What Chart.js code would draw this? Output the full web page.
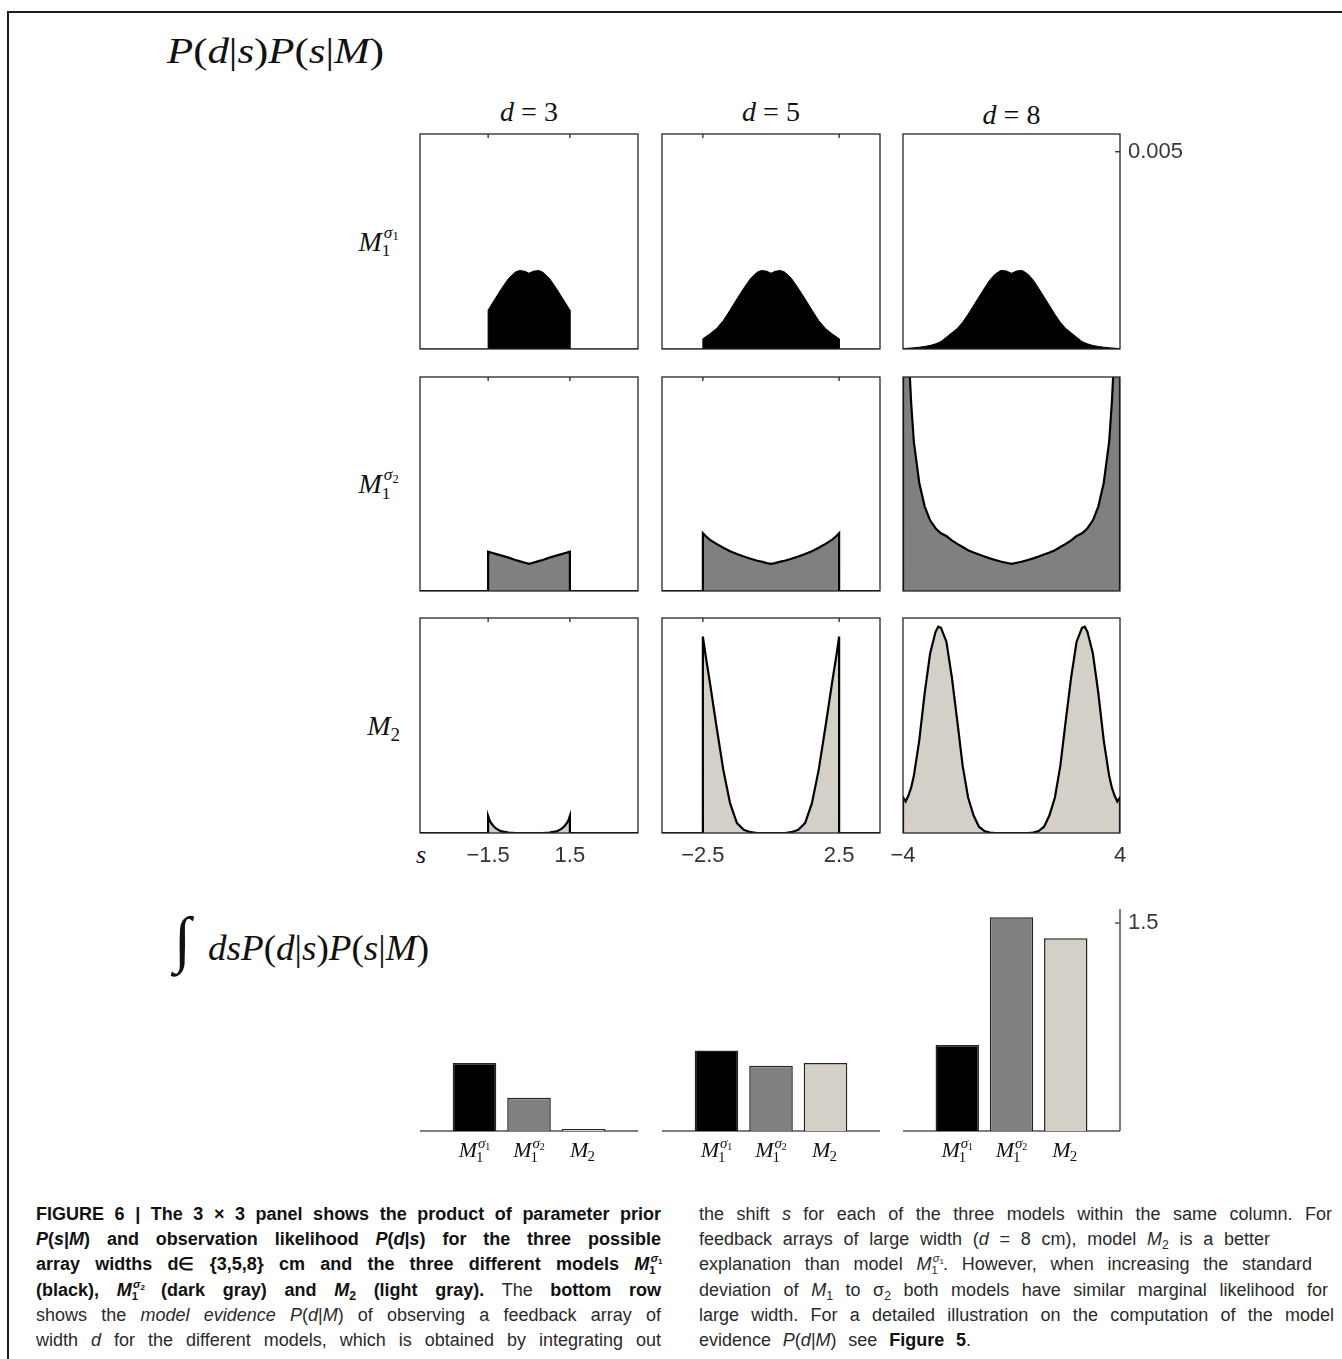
<!DOCTYPE html>
<html lang="en">
<head>
<meta charset="utf-8">
<title>Figure 6 - model evidence</title>
<script src="https://cdn.jsdelivr.net/npm/chart.js@4.4.1/dist/chart.umd.min.js"></script>
<style>
  html, body { margin: 0; padding: 0; background: #ffffff; }
  #page { position: relative; width: 1342px; height: 1359px; overflow: hidden; background: #ffffff; }
  #frame { position: absolute; left: 7px; top: 11px; width: 1500px; height: 1500px;
           border-left: 2px solid #1e1e1e; border-top: 2px solid #1e1e1e; }
  canvas { position: absolute; }
  .math { position: absolute; font-family: "Liberation Serif", "DejaVu Serif", serif;
          color: #111; white-space: nowrap; line-height: 1; }
  .math i, .cap i { font-style: italic; }
  .ctr { transform: translate(-50%, -50%); }
  .rgt { transform: translate(-100%, -50%); }
  .stk { position: relative; display: inline-block; width: 1.05em; height: 0; font-size: 0.62em; }
  .stk .up { position: absolute; left: 0.12em; bottom: 0.53em; line-height: 1; }
  .stk .dn { position: absolute; left: 0; top: -0.48em; line-height: 1; }
  .stk .tiny { font-size: 0.72em; position: relative; top: 0.2em; }
  .sb { font-size: 0.68em; vertical-align: -0.3em; line-height: 0; }
  .cap { position: absolute; font-family: "Liberation Sans", Arial, sans-serif; font-size: 18px;
         line-height: 1; white-space: nowrap; color: #2a2a2a; transform-origin: 0 0; }
  .cap b { color: #111; }
</style>
</head>
<body>
<div id="page">
  <div id="frame"></div>

  <div class="math" style="left:167px; top:33px; font-size:36px;" data-fit="217"><i>P</i>(<i>d</i>|<i>s</i>)<i>P</i>(<i>s</i>|<i>M</i>)</div>
  <div class="math" style="left:174px; top:908px; font-size:62px;">&#8747;</div>
  <div class="math" style="left:208px; top:930px; font-size:36px;" data-fit="221"><i>dsP</i>(<i>d</i>|<i>s</i>)<i>P</i>(<i>s</i>|<i>M</i>)</div>
  <div class="math ctr" style="left:421px; top:855px; font-size:26px;"><i>s</i></div>

  <div class="cap" style="left:36px; top:1205px;" data-w="625"><b>FIGURE 6 | The 3 × 3 panel shows the product of parameter prior</b></div>
  <div class="cap" style="left:36px; top:1230px;" data-w="625"><b><i>P</i>(<i>s</i>|<i>M</i>) and observation likelihood <i>P</i>(<i>d</i>|<i>s</i>) for the three possible</b></div>
  <div class="cap" style="left:36px; top:1255px;" data-w="625"><b>array widths d∈ {3,5,8} cm and the three different models <i>M</i><span class="stk"><span class="up"><i>σ</i><span class="tiny">1</span></span><span class="dn">1</span></span></b></div>
  <div class="cap" style="left:36px; top:1281px;" data-w="625"><b>(black), <i>M</i><span class="stk"><span class="up"><i>σ</i><span class="tiny">2</span></span><span class="dn">1</span></span> (dark gray) and <i>M</i><span class="sb">2</span> (light gray).</b> The <b>bottom row</b></div>
  <div class="cap" style="left:36px; top:1306px;" data-w="625">shows the <i>model evidence P</i>(<i>d</i>|<i>M</i>) of observing a feedback array of</div>
  <div class="cap" style="left:36px; top:1331px;" data-w="625">width <i>d</i> for the different models, which is obtained by integrating out</div>

  <div class="cap" style="left:699px; top:1205px;" data-w="633">the shift <i>s</i> for each of the three models within the same column. For</div>
  <div class="cap" style="left:699px; top:1230px;" data-w="571">feedback arrays of large width (<i>d</i> = 8 cm), model <i>M</i><span class="sb">2</span> is a better</div>
  <div class="cap" style="left:699px; top:1255px;" data-w="613">explanation than model <i>M</i><span class="stk"><span class="up"><i>σ</i><span class="tiny">1</span></span><span class="dn">1</span></span>. However, when increasing the standard</div>
  <div class="cap" style="left:699px; top:1281px;" data-w="629">deviation of <i>M</i><span class="sb">1</span> to σ<span class="sb">2</span> both models have similar marginal likelihood for</div>
  <div class="cap" style="left:699px; top:1306px;" data-w="635">large width. For a detailed illustration on the computation of the model</div>
  <div class="cap" style="left:699px; top:1331px;" data-w="272">evidence <i>P</i>(<i>d</i>|<i>M</i>) see <b>Figure 5</b>.</div>
</div>

<script>
// ---- data (curve heights in units of 1e-3) ----
const widthsCm = [3, 5, 8];
const models = ['M1s1', 'M1s2', 'M2'];

// shift s, one grid per array width (support is |s| <= d/2)
const sGridD3 = [-1.5, -1.45, -1.4, -1.3, -1.2, -1.1, -1.0, -0.75, -0.5, -0.35, -0.15, 0,
                 0.15, 0.35, 0.5, 0.75, 1.0, 1.1, 1.2, 1.3, 1.4, 1.45, 1.5];
const sGridD5 = [-2.5, -2.4, -2.25, -2.0, -1.75, -1.5, -1.25, -1.0, -0.75, -0.5, -0.35, -0.15, 0,
                 0.15, 0.35, 0.5, 0.75, 1.0, 1.25, 1.5, 1.75, 2.0, 2.25, 2.4, 2.5];
const sGridD8 = [-4, -3.9, -3.8, -3.7, -3.6, -3.4, -3.2, -3.0, -2.8, -2.7, -2.6, -2.4, -2.2, -2.0,
                 -1.8, -1.6, -1.4, -1.2, -1.0, -0.8, -0.6, -0.4, -0.2, 0,
                 0.2, 0.4, 0.6, 0.8, 1.0, 1.2, 1.4, 1.6, 1.8, 2.0, 2.2, 2.4, 2.6, 2.7,
                 2.8, 3.0, 3.2, 3.4, 3.6, 3.7, 3.8, 3.9, 4];

// P(d|s)P(s|M), model M1 with sigma1 (black)
const m1s1D3 = [0.99, 1.04, 1.10, 1.21, 1.32, 1.43, 1.54, 1.79, 1.95, 1.99, 1.97, 1.92,
                1.97, 1.99, 1.95, 1.79, 1.54, 1.43, 1.32, 1.21, 1.10, 1.04, 0.99];
const m1s1D5 = [0.26, 0.31, 0.38, 0.52, 0.72, 0.99, 1.27, 1.54, 1.79, 1.95, 1.99, 1.97, 1.92,
                1.97, 1.99, 1.95, 1.79, 1.54, 1.27, 0.99, 0.72, 0.52, 0.38, 0.31, 0.26];
const m1s1D8 = [0.01, 0.015, 0.02, 0.025, 0.03, 0.045, 0.065, 0.09, 0.13, 0.16, 0.19, 0.30, 0.41, 0.52,
                0.68, 0.88, 1.10, 1.32, 1.54, 1.75, 1.90, 1.99, 1.98, 1.92,
                1.98, 1.99, 1.90, 1.75, 1.54, 1.32, 1.10, 0.88, 0.68, 0.52, 0.41, 0.30, 0.19, 0.16,
                0.13, 0.09, 0.065, 0.045, 0.03, 0.025, 0.02, 0.015, 0.01];

// model M1 with sigma2 (dark gray)
const m1s2D3 = [1.00, 0.99, 0.98, 0.96, 0.94, 0.92, 0.90, 0.85, 0.79, 0.76, 0.72, 0.69,
                0.72, 0.76, 0.79, 0.85, 0.90, 0.92, 0.94, 0.96, 0.98, 0.99, 1.00];
const m1s2D5 = [1.47, 1.40, 1.31, 1.20, 1.10, 1.01, 0.94, 0.88, 0.82, 0.77, 0.75, 0.71, 0.69,
                0.71, 0.75, 0.77, 0.82, 0.88, 0.94, 1.01, 1.10, 1.20, 1.31, 1.40, 1.47];
const m1s2D8 = [11.0, 8.0, 6.2, 4.8, 3.8, 2.75, 2.15, 1.80, 1.60, 1.53, 1.47, 1.40, 1.29, 1.20,
                1.12, 1.04, 0.98, 0.93, 0.88, 0.83, 0.79, 0.75, 0.72, 0.69,
                0.72, 0.75, 0.79, 0.83, 0.88, 0.93, 0.98, 1.04, 1.12, 1.20, 1.29, 1.40, 1.47, 1.53,
                1.60, 1.80, 2.15, 2.75, 3.8, 4.8, 6.2, 8.0, 11.0];

// model M2 (light gray)
const m2D3 = [0.43, 0.33, 0.26, 0.17, 0.11, 0.07, 0.04, 0.01, 0, 0, 0, 0,
              0, 0, 0, 0.01, 0.04, 0.07, 0.11, 0.17, 0.26, 0.33, 0.43];
const m2D5 = [4.98, 4.50, 3.85, 2.70, 1.60, 0.75, 0.25, 0.08, 0.02, 0, 0, 0, 0,
              0, 0, 0, 0.02, 0.08, 0.25, 0.75, 1.60, 2.70, 3.85, 4.50, 4.98];
const m2D8 = [0.90, 0.80, 0.95, 1.15, 1.45, 2.35, 3.55, 4.55, 5.10, 5.23, 5.20, 4.85, 3.95, 2.85,
              1.70, 0.90, 0.45, 0.16, 0.05, 0.01, 0, 0, 0, 0,
              0, 0, 0, 0.01, 0.05, 0.16, 0.45, 0.90, 1.70, 2.85, 3.95, 4.85, 5.20, 5.23,
              5.10, 4.55, 3.55, 2.35, 1.45, 1.15, 0.95, 0.80, 0.90];

// model evidence P(d|M), order as in models
const evidenceD3 = [0.49, 0.24, 0.014];
const evidenceD5 = [0.58, 0.47, 0.49];
const evidenceD8 = [0.62, 1.54, 1.39];

// tick labels
const xTicksD3 = [-1.5, 1.5];
const xTicksD5 = [-2.5, 2.5];
const xTicksD8 = [-4, 4];
const curveTicksY = [0.005];
const evidenceTicksY = [1.5];

// ---- layout and style ----
const S_MIN = -4, S_MAX = 4, CURVE_MAX = 0.00545, EVID_MAX = 1.6;
const colSpan = [[420, 638], [662, 880], [903, 1120]];
const rowSpan = [[134, 349], [377, 591], [618, 833]];
const barSpan = [909, 1131];
const fills = ['#000000', '#808080', '#d4d0c8'];
const TICK_FONT = { family: 'Liberation Sans', size: 22 };
const SERIF = '"Liberation Serif", "DejaVu Serif", serif';
const M = 30;  // canvas margin around each panel

const grids = [sGridD3, sGridD5, sGridD8];
const xTicks = [xTicksD3, xTicksD5, xTicksD8];
const curves = [[m1s1D3, m1s1D5, m1s1D8], [m1s2D3, m1s2D5, m1s2D8], [m2D3, m2D5, m2D8]];
const evidence = [evidenceD3, evidenceD5, evidenceD8];
const page = document.getElementById('page');

const fmtTick = v => (v < 0 ? '\u2212' : '') + Math.abs(v);

function mHtml(key) {
  if (key === 'M2') return '<i>M</i><span class="sb">2</span>';
  const k = key === 'M1s1' ? '1' : '2';
  return '<i>M</i><span class="stk"><span class="up"><i>σ</i><span class="tiny">' + k +
         '</span></span><span class="dn">1</span></span>';
}

function addLabel(html, cls, left, top, size) {
  const el = document.createElement('div');
  el.className = 'math ' + cls;
  el.style.left = left + 'px';
  el.style.top = top + 'px';
  el.style.fontSize = size + 'px';
  el.innerHTML = html;
  page.appendChild(el);
}

// column headers and row labels
widthsCm.forEach((d, c) => {
  addLabel('<i>d</i> = ' + d, 'ctr', (colSpan[c][0] + colSpan[c][1]) / 2, c === 2 ? 115 : 112, 28);
});
models.forEach((m, r) => {
  addLabel(mHtml(m), 'rgt', 400, (rowSpan[r][0] + rowSpan[r][1]) / 2, 28);
});

function place(w, h, left, top) {
  const c = document.createElement('canvas');
  c.width = w; c.height = h;
  c.style.width = w + 'px'; c.style.height = h + 'px';
  c.style.left = left + 'px'; c.style.top = top + 'px';
  page.appendChild(c);
  return c;
}

// fixed axis size so the plot box lands where it should
function fixSize(size) {
  return (scale) => {
    if (scale.isHorizontal()) scale.height = size; else scale.width = size;
    scale.paddingLeft = scale.paddingRight = scale.paddingTop = scale.paddingBottom = 0;
  };
}

function curvePoints(grid, vals) {
  const pts = [{ x: S_MIN, y: 0 }, { x: grid[0], y: 0 }];
  grid.forEach((s, i) => pts.push({ x: s, y: vals[i] * 1e-3 }));
  pts.push({ x: grid[grid.length - 1], y: 0 }, { x: S_MAX, y: 0 });
  return pts;
}

// box round each panel plus inward tick marks
const panelFrame = {
  id: 'panelFrame',
  afterDatasetsDraw(chart, args, o) {
    const { ctx, chartArea: a, scales } = chart;
    ctx.save();
    ctx.strokeStyle = '#262626';
    ctx.lineWidth = 1.3;
    ctx.strokeRect(a.left, a.top, a.right - a.left, a.bottom - a.top);
    ctx.beginPath();
    (o.topTicks || []).forEach(v => {
      const x = scales.x.getPixelForValue(v);
      ctx.moveTo(x, a.top); ctx.lineTo(x, a.top + 4);
    });
    (o.rightTicks || []).forEach(v => {
      const y = scales.y.getPixelForValue(v);
      ctx.moveTo(a.right - 5, y); ctx.lineTo(a.right, y);
    });
    ctx.stroke();
    ctx.restore();
  }
};

function drawModel(ctx, key, cx, baseY, size) {
  ctx.save();
  ctx.fillStyle = '#111';
  ctx.textBaseline = 'alphabetic';
  ctx.textAlign = 'left';
  const big = 'italic ' + size + 'px ' + SERIF;
  const mid = (it) => (it ? 'italic ' : '') + Math.round(size * 0.66) + 'px ' + SERIF;
  const small = Math.round(size * 0.46) + 'px ' + SERIF;
  ctx.font = big;
  const wM = ctx.measureText('M').width;
  let wS;
  if (key === 'M2') {
    ctx.font = mid(false); wS = ctx.measureText('2').width;
  } else {
    ctx.font = mid(true); wS = ctx.measureText('σ').width;
    ctx.font = small; wS += ctx.measureText('1').width;
  }
  const x0 = cx - (wM + 1 + wS) / 2;
  ctx.font = big;
  ctx.fillText('M', x0, baseY);
  const xs = x0 + wM + 1;
  if (key === 'M2') {
    ctx.font = mid(false);
    ctx.fillText('2', xs - 2, baseY + size * 0.2);
  } else {
    ctx.font = mid(false);
    ctx.fillText('1', xs - 2, baseY + size * 0.22);
    ctx.font = mid(true);
    ctx.fillText('σ', xs, baseY - size * 0.42);
    const wsig = ctx.measureText('σ').width;
    ctx.font = small;
    ctx.fillText(key === 'M1s1' ? '1' : '2', xs + wsig, baseY - size * 0.32);
  }
  ctx.restore();
}

// baseline, right axis and model names for the evidence bars
const evidenceAxes = {
  id: 'evidenceAxes',
  beforeDatasetsDraw(chart, args, o) {
    const { ctx, chartArea: a, scales } = chart;
    const y0 = scales.y.getPixelForValue(0);
    ctx.save();
    ctx.strokeStyle = '#555';
    ctx.lineWidth = 1.5;
    ctx.beginPath();
    ctx.moveTo(a.left, y0); ctx.lineTo(a.right, y0);
    if (o.rightAxis) {
      ctx.moveTo(a.right, y0); ctx.lineTo(a.right, a.top);
      evidenceTicksY.forEach(v => {
        const y = scales.y.getPixelForValue(v);
        ctx.moveTo(a.right - 5, y); ctx.lineTo(a.right, y);
      });
    }
    ctx.stroke();
    ctx.restore();
  },
  afterDatasetsDraw(chart) {
    const { ctx, chartArea: a, scales } = chart;
    models.forEach((m, i) => drawModel(ctx, m, scales.x.getPixelForValue(i + 1), a.bottom + 26, 22));
  }
};

// 3 x 3 panels of P(d|s)P(s|M)
for (let r = 0; r < 3; r++) {
  for (let c = 0; c < 3; c++) {
    const [L, R] = colSpan[c];
    const [T, B] = rowSpan[r];
    const bottomRow = r === 2;
    const yAxis = r === 0 && c === 2;
    const xH = bottomRow ? 40 : 0;
    const yW = yAxis ? 80 : 0;
    const cv = place(R - L + 2 * M + yW, B - T + 2 * M + xH, L - M, T - M);
    new Chart(cv, {
      type: 'line',
      data: {
        datasets: [{
          data: curvePoints(grids[c], curves[r][c]),
          fill: 'origin',
          backgroundColor: fills[r],
          borderColor: '#000',
          borderWidth: r === 0 ? 1 : 2.2,
          pointRadius: 0,
          tension: 0,
          clip: 0
        }]
      },
      options: {
        responsive: false,
        animation: false,
        devicePixelRatio: 1,
        events: [],
        layout: { padding: M },
        plugins: {
          legend: { display: false },
          tooltip: { enabled: false },
          panelFrame: { topTicks: c < 2 ? xTicks[c] : [], rightTicks: yAxis ? curveTicksY : [] }
        },
        scales: {
          x: {
            type: 'linear', min: S_MIN, max: S_MAX, display: bottomRow, position: 'bottom',
            grid: { display: false, drawTicks: false },
            border: { display: false },
            ticks: { autoSkip: false, maxRotation: 0, padding: 10, color: '#333', font: TICK_FONT, callback: fmtTick },
            afterBuildTicks: s => { s.ticks = xTicks[c].map(v => ({ value: v })); },
            afterFit: fixSize(xH)
          },
          y: {
            min: 0, max: CURVE_MAX, display: yAxis, position: 'right',
            grid: { display: false, drawTicks: false },
            border: { display: false },
            ticks: { padding: 8, color: '#3a3a3a', font: TICK_FONT, callback: v => String(v) },
            afterBuildTicks: s => { s.ticks = curveTicksY.map(v => ({ value: v })); },
            afterFit: fixSize(yW)
          }
        }
      },
      plugins: [panelFrame]
    });
  }
}

// bottom row: model evidence bars
for (let c = 0; c < 3; c++) {
  const [L, R] = colSpan[c];
  const [T, B] = barSpan;
  const yAxis = c === 2;
  const yW = yAxis ? 70 : 0;
  const cv = place(R - L + 2 * M + yW, B - T + 2 * M + 40, L - M, T - M);
  new Chart(cv, {
    type: 'bar',
    data: {
      datasets: [{
        data: evidence[c].map((v, i) => ({ x: i + 1, y: v })),
        backgroundColor: fills,
        borderColor: '#232323',
        borderWidth: 1.5,
        barPercentage: 0.8,
        categoryPercentage: 1
      }]
    },
    options: {
      responsive: false,
      animation: false,
      devicePixelRatio: 1,
      events: [],
      layout: { padding: { left: M, top: M, right: M, bottom: M + 40 } },
      plugins: {
        legend: { display: false },
        tooltip: { enabled: false },
        evidenceAxes: { rightAxis: yAxis }
      },
      scales: {
        x: {
          type: 'linear', min: 0, max: 4, offset: false, display: false,
          afterBuildTicks: s => { s.ticks = models.map((m, i) => ({ value: i + 1 })); }
        },
        y: {
          min: 0, max: EVID_MAX, display: yAxis, position: 'right',
          grid: { display: false, drawTicks: false },
          border: { display: false },
          ticks: { padding: 8, color: '#3a3a3a', font: TICK_FONT, callback: v => String(v) },
          afterBuildTicks: s => { s.ticks = evidenceTicksY.map(v => ({ value: v })); },
          afterFit: fixSize(yW)
        }
      }
    },
    plugins: [evidenceAxes]
  });
}

// squeeze text to the measured widths of the original
document.querySelectorAll('[data-fit]').forEach(el => {
  const w = el.getBoundingClientRect().width;
  el.style.transformOrigin = '0 50%';
  el.style.transform = 'scaleX(' + (+el.dataset.fit / w) + ')';
});
document.querySelectorAll('.cap').forEach(el => {
  const target = +el.dataset.w;
  const natural = el.getBoundingClientRect().width;
  const spaces = (el.textContent.match(/ /g) || []).length;
  if (natural < target && spaces) {
    el.style.wordSpacing = ((target - natural) / spaces) + 'px';
  } else {
    el.style.transform = 'scaleX(' + (target / natural) + ')';
  }
});
</script>
</body>
</html>
